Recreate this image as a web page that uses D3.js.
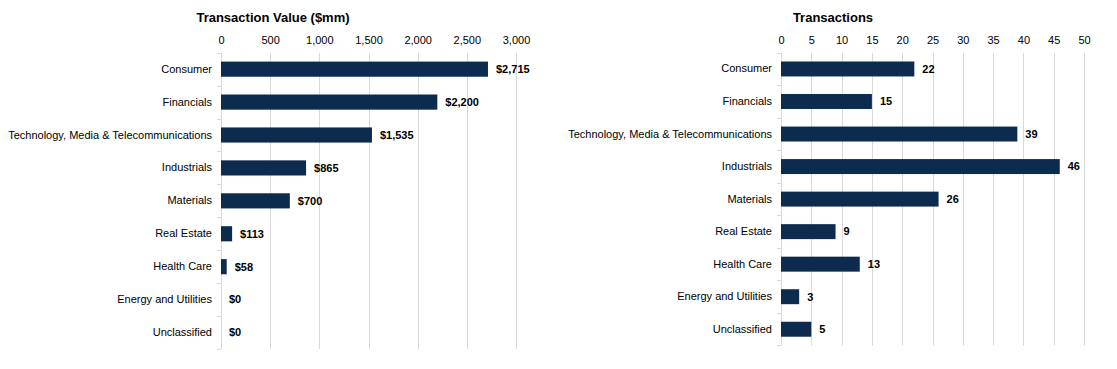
<!DOCTYPE html>
<html>
<head>
<meta charset="utf-8">
<script src="https://cdn.jsdelivr.net/npm/d3@7"></script>
<style>
  html, body { margin: 0; padding: 0; background: #fff; }
  svg { display: block; font-family: "Liberation Sans", Arial, sans-serif; }
</style>
</head>
<body>
<svg id="chart" width="1117" height="369"></svg>
<script>
const categories = ["Consumer", "Financials", "Technology, Media & Telecommunications", "Industrials", "Materials", "Real Estate", "Health Care", "Energy and Utilities", "Unclassified"];
const transactionValues = [2715, 2200, 1535, 865, 700, 113, 58, 0, 0];
const transactionCounts = [22, 15, 39, 46, 26, 9, 13, 3, 5];
const valueTicks = [0, 500, 1000, 1500, 2000, 2500, 3000];
const countTicks = [0, 5, 10, 15, 20, 25, 30, 35, 40, 45, 50];
const titles = ["Transaction Value ($mm)", "Transactions"];

const svg = d3.select("#chart");
const barColor = "#0c2b4e";
const gridColor = "#d9d9d9";

function drawPanel(opts) {
  const { x0, x1, y0, y1, values, ticks, max, fmt, title, titleX } = opts;
  const x = d3.scaleLinear().domain([0, max]).range([x0, x1]);
  const p = 0.54;
  const y = d3.scaleBand().domain(categories).range([y0, y1]).paddingInner(p).paddingOuter(p / 2);
  const g = svg.append("g");

  // title
  g.append("text").attr("x", titleX).attr("y", 22)
    .attr("text-anchor", "middle").attr("font-size", 13).attr("font-weight", "bold")
    .attr("fill", "#000").text(title);

  // gridlines
  g.append("g").selectAll("line").data(ticks).join("line")
    .attr("x1", d => Math.round(x(d)) + 0.5).attr("x2", d => Math.round(x(d)) + 0.5)
    .attr("y1", y0).attr("y2", y1)
    .attr("stroke", gridColor).attr("stroke-width", 1);

  // top tick labels via axis
  const axis = d3.axisTop(x).tickValues(ticks).tickFormat(d3.format(",")).tickSize(0).tickPadding(0);
  const ax = g.append("g").attr("transform", `translate(0, ${y0 - 9})`).call(axis);
  ax.select(".domain").remove();
  ax.selectAll("text").attr("font-size", 11).attr("fill", "#000")
    .attr("font-family", "Liberation Sans, Arial, sans-serif").attr("dy", "0");

  // category boundary ticks
  const step = y.step();
  const bounds = d3.range(categories.length + 1).map(i => y0 + i * step);
  g.append("g").selectAll("line").data(bounds).join("line")
    .attr("x1", x0 - 4).attr("x2", x0)
    .attr("y1", d => Math.round(d) + 0.5).attr("y2", d => Math.round(d) + 0.5)
    .attr("stroke", gridColor).attr("stroke-width", 1);

  // category labels via axis
  const yAxis = d3.axisLeft(y).tickSize(0).tickPadding(9);
  const ay = g.append("g").attr("transform", `translate(${x0}, 0)`).call(yAxis);
  ay.select(".domain").remove();
  ay.selectAll("text").attr("font-size", 11).attr("fill", "#000")
    .attr("font-family", "Liberation Sans, Arial, sans-serif");

  // bars
  g.append("g").selectAll("rect").data(values).join("rect")
    .attr("x", x(0))
    .attr("y", (d, i) => y(categories[i]))
    .attr("width", d => x(d) - x(0))
    .attr("height", y.bandwidth())
    .attr("fill", barColor);

  // value labels
  g.append("g").selectAll("text").data(values).join("text")
    .attr("x", d => x(d) + 8)
    .attr("y", (d, i) => y(categories[i]) + y.bandwidth() / 2)
    .attr("dy", "0.35em")
    .attr("font-size", 11).attr("font-weight", "bold").attr("fill", "#000")
    .text(d => fmt(d));
}

drawPanel({
  x0: 221, x1: 516, y0: 52.7, y1: 349,
  values: transactionValues, ticks: valueTicks, max: 3000,
  fmt: d => "$" + d3.format(",")(d),
  title: titles[0], titleX: 273
});

drawPanel({
  x0: 781, x1: 1084, y0: 52.7, y1: 345.5,
  values: transactionCounts, ticks: countTicks, max: 50,
  fmt: d => String(d),
  title: titles[1], titleX: 833
});
</script>
</body>
</html>
